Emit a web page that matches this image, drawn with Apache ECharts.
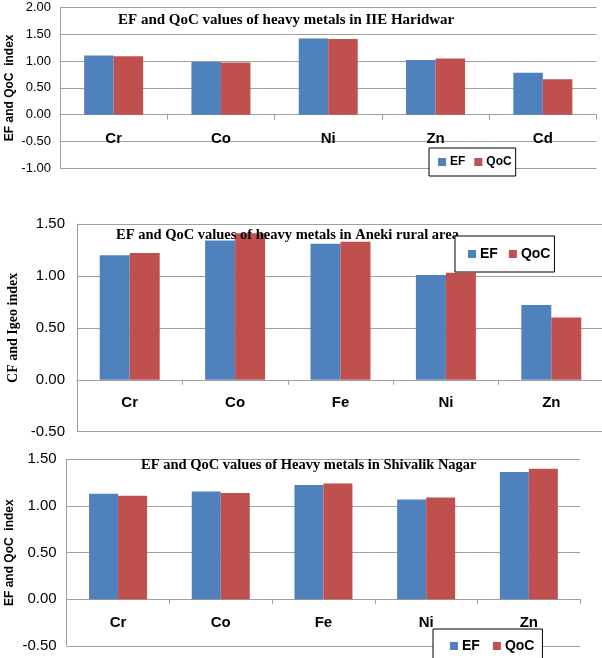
<!DOCTYPE html>
<html>
<head>
<meta charset="utf-8">
<script src="https://cdn.jsdelivr.net/npm/echarts@6/dist/echarts.min.js"></script>
<style>
  html, body { margin: 0; padding: 0; background: #fff; }
  #chart { width: 602px; height: 658px; }
</style>
</head>
<body>
<div id="chart"></div>
<script>
// panel 1 - IIE Haridwar
const metals1 = ['Cr', 'Co', 'Ni', 'Zn', 'Cd'];
const ef1 = [1.10, 0.98, 1.42, 1.02, 0.78];
const qoc1 = [1.09, 0.97, 1.41, 1.045, 0.66];

// panel 2 - Aneki rural area
const metals2 = ['Cr', 'Co', 'Fe', 'Ni', 'Zn'];
const ef2 = [1.20, 1.34, 1.31, 1.01, 0.72];
const qoc2 = [1.22, 1.41, 1.33, 1.03, 0.60];

// panel 3 - Shivalik Nagar
const metals3 = ['Cr', 'Co', 'Fe', 'Ni', 'Zn'];
const ef3 = [1.13, 1.155, 1.225, 1.07, 1.365];
const qoc3 = [1.11, 1.14, 1.24, 1.09, 1.40];

const titles = [
    'EF and QoC values of heavy metals in IIE Haridwar',
    'EF and QoC values of heavy metals in Aneki rural area',
    'EF and QoC values of Heavy metals in Shivalik Nagar',
];
const yNames = ['EF and QoC  index', 'CF and Igeo index', 'EF and QoC  index'];

const BLUE = '#4f81bd';
const RED = '#c0504d';
const GRID = '#a0a0a0';
const SANS = 'Liberation Sans';
const SERIF = 'Liberation Serif';

const chart = echarts.init(document.getElementById('chart'), null, { renderer: 'canvas' });

const grids = [
    { left: 60, top: 7.3, width: 536.5, height: 161, outerBoundsMode: 'none' },
    { left: 77, top: 224, width: 527, height: 207.7, outerBoundsMode: 'none' },
    { left: 66.7, top: 459.3, width: 513.5, height: 186.7, outerBoundsMode: 'none' },
];

const yRanges = [[-1, 2], [-0.5, 1.5], [-0.5, 1.5]];
const tickFont = [13, 15, 15];
const tickMargin = [9, 12, 10];
const nameGaps = [44, 57, 51];
const nameFonts = [
    { fontFamily: SANS, fontWeight: 'bold', fontSize: 12 },
    { fontFamily: SERIF, fontWeight: 'bold', fontSize: 14 },
    { fontFamily: SANS, fontWeight: 'bold', fontSize: 12 },
];
const barWidths = [29.5, 30, 29];
// category labels sit below the zero line; offset from the grid bottom
const catMargins = [-37, -36, -31];

const cats = [metals1, metals2, metals3];
const efs = [ef1, ef2, ef3];
const qocs = [qoc1, qoc2, qoc3];

const xAxes = cats.map((c, i) => ({
    type: 'category',
    gridIndex: i,
    data: c,
    axisLine: { lineStyle: { color: GRID } },
    axisTick: { show: true, length: 5, lineStyle: { color: GRID } },
    axisLabel: { margin: catMargins[i], color: '#000', fontFamily: SANS, fontWeight: 'bold', fontSize: 15 },
}));

const yAxes = yRanges.map((r, i) => ({
    type: 'value',
    gridIndex: i,
    min: r[0],
    max: r[1],
    interval: 0.5,
    name: yNames[i],
    nameLocation: 'middle',
    nameRotate: 90,
    nameGap: nameGaps[i],
    nameMoveOverlap: false,
    nameTextStyle: Object.assign({ color: '#000' }, nameFonts[i]),
    axisLine: { show: true, lineStyle: { color: GRID } },
    axisTick: { show: false },
    splitLine: { lineStyle: { color: GRID, width: 1 } },
    axisLabel: {
        margin: tickMargin[i],
        color: '#000',
        fontFamily: SANS,
        fontSize: tickFont[i],
        formatter: (v) => v.toFixed(2),
    },
}));

const series = [];
for (let i = 0; i < 3; i++) {
    series.push({
        name: 'EF', type: 'bar', xAxisIndex: i, yAxisIndex: i,
        data: efs[i], barWidth: barWidths[i], barGap: 0,
        itemStyle: { color: BLUE },
    });
    series.push({
        name: 'QoC', type: 'bar', xAxisIndex: i, yAxisIndex: i,
        data: qocs[i], barWidth: barWidths[i], barGap: 0,
        itemStyle: { color: RED },
    });
}

const titlePos = [
    { left: 118, top: 12, fontSize: 15 },
    { left: 116, top: 227, fontSize: 14.5 },
    { left: 141, top: 457, fontSize: 14.5 },
];

const legendBox = (left, top, pad, gap, size) => ({
    left, top,
    z: 10,
    data: ['EF', 'QoC'],
    icon: 'rect',
    itemWidth: 8,
    itemHeight: 8,
    itemGap: gap,
    padding: pad,
    backgroundColor: '#fff',
    borderColor: '#000',
    borderWidth: 1,
    borderRadius: 0,
    textStyle: { fontFamily: SANS, fontWeight: 'bold', fontSize: size, color: '#000', padding: [0, 0, 0, -1] },
});

chart.setOption({
    backgroundColor: '#fff',
    animation: false,
    title: titles.map((t, i) => ({
        text: t,
        left: titlePos[i].left,
        top: titlePos[i].top,
        padding: 0,
        z: 6,
        textStyle: { fontFamily: SERIF, fontWeight: 'bold', fontSize: titlePos[i].fontSize, color: '#000', lineHeight: 16 },
    })),
    legend: [
        legendBox(429, 148, [8, 4, 8, 9], 9, 12),
        legendBox(455, 236, [11, 4, 11, 13], 11, 14),
        legendBox(433, 629, [10, 8, 12, 17], 13, 14),
    ],
    grid: grids,
    xAxis: xAxes,
    yAxis: yAxes,
    series,
});
</script>
</body>
</html>
